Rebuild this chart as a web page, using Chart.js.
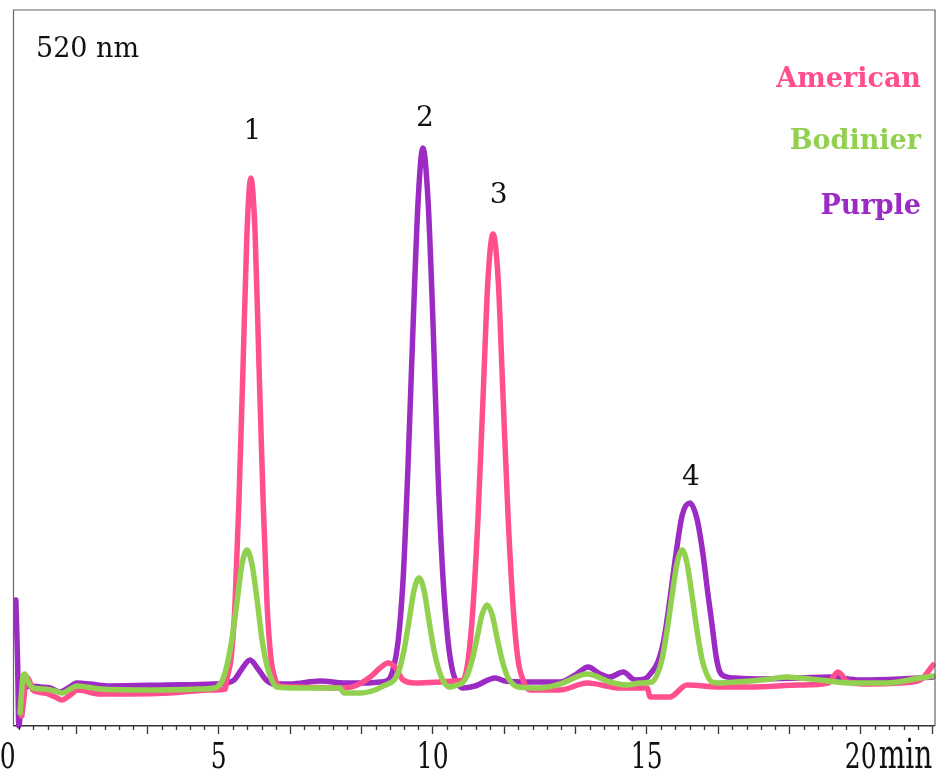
<!DOCTYPE html>
<html>
<head>
<meta charset="utf-8">
<script src="https://cdn.jsdelivr.net/npm/chart.js@4.4.1/dist/chart.umd.min.js"></script>
<style>
  html, body { margin: 0; padding: 0; background: #fff; }
  #wrap { width: 939px; height: 771px; }
</style>
</head>
<body>
<div id="wrap"><canvas id="chart" width="939" height="771"></canvas></div>
<script>
// retention time (min) and detector response (arbitrary units)
const americanT = [0.40, 0.45, 0.50, 0.57, 0.66, 0.94, 1.18, 1.34, 1.53, 1.71, 2.23, 2.93, 3.86, 4.80, 5.15,
  5.19, 5.29, 5.38, 5.47, 5.57, 5.66, 5.75, 5.85, 5.94, 6.04, 6.13, 6.22, 6.32, 6.43,
  6.90, 7.83, 8.18, 8.54, 8.77, 8.96, 9.12, 9.31, 9.59, 10.17, 10.52,
  10.71, 10.83, 10.94, 11.06, 11.18, 11.29, 11.41, 11.53, 11.64, 11.76, 11.88, 11.99, 12.11, 12.27,
  12.97, 13.61, 14.38, 15.01, 15.08, 15.54, 15.94, 16.71, 17.41, 18.58, 19.24, 19.47, 19.70, 20.21, 20.92, 21.39, 21.69];
const americanY = [10, 28, 49, 46, 36, 33, 29, 26, 31, 36, 32, 32, 33, 36, 37,
  47, 68, 121, 222, 362, 493, 548, 493, 362, 222, 121, 68, 47, 40,
  39, 38, 40, 49, 58, 63, 59, 46, 43, 44, 45,
  46, 67, 118, 210, 333, 446, 492, 446, 333, 210, 118, 67, 46, 36,
  36, 43, 38, 38, 29, 29, 41, 39, 39, 41, 43, 54, 44, 42, 43, 46, 61];

const bodinierT = [0.36, 0.38, 0.43, 0.47, 0.54, 0.66, 0.94, 1.18, 1.34, 1.53, 1.69, 2.23, 3.40, 4.56, 4.91,
  4.96, 5.08, 5.19, 5.31, 5.43, 5.54, 5.66, 5.78, 5.90, 6.01, 6.13, 6.25, 6.36,
  6.90, 7.83, 7.93, 8.30, 8.65, 8.84,
  9.10, 9.21, 9.33, 9.45, 9.56, 9.68, 9.80, 9.91, 10.03, 10.15, 10.26, 10.40,
  10.57, 10.69, 10.80, 10.92, 11.04, 11.15, 11.27, 11.39, 11.50, 11.62, 11.74, 11.85, 11.99,
  12.51, 12.97, 13.61, 14.14, 14.54, 14.84,
  15.12, 15.24, 15.36, 15.47, 15.59, 15.71, 15.83, 15.94, 16.06, 16.18, 16.29, 16.41, 16.53, 16.71,
  17.41, 17.88, 18.28, 18.58, 19.05, 19.82, 20.61, 21.39, 21.69];
const bodinierY = [13, 26, 50, 52, 45, 38, 37, 35, 33, 37, 40, 37, 36, 37, 38,
  39, 45, 60, 87, 125, 161, 176, 161, 125, 87, 60, 45, 39,
  38, 38, 33, 33, 36, 40,
  46, 55, 76, 106, 135, 148, 135, 106, 76, 55, 44, 39,
  41, 43, 50, 66, 89, 111, 121, 111, 89, 66, 50, 43, 39,
  38, 42, 52, 44, 41, 43,
  44, 51, 67, 94, 130, 163, 176, 163, 130, 94, 67, 51, 44, 43,
  45, 47, 49, 48, 46, 43, 43, 48, 50];

const purpleT = [0.26, 0.30, 0.33, 0.38, 0.45, 0.59, 0.83, 1.06, 1.29, 1.48, 1.69, 1.99, 2.46, 3.79, 4.87, 5.17,
  5.36, 5.54, 5.73, 5.92, 6.11, 6.29,
  6.67, 7.37, 7.95, 8.47, 8.77,
  8.96, 9.07, 9.19, 9.31, 9.42, 9.54, 9.66, 9.77, 9.89, 10.01, 10.12, 10.24, 10.36, 10.47, 10.59, 10.71,
  10.99, 11.46, 11.69, 12.27, 12.97, 13.33, 13.63, 13.91, 14.14, 14.45, 14.73, 14.96,
  15.08, 15.26, 15.40, 15.54, 15.68, 15.83, 16.01, 16.18, 16.32, 16.43, 16.53, 16.62, 16.71, 16.88, 17.06,
  17.65, 18.58, 19.28, 19.98, 20.92, 21.69];
const purpleY = [126, 66, 0, 20, 36, 40, 39, 38, 34, 38, 43, 42, 40, 41, 42, 43,
  46, 57, 66, 57, 46, 42,
  42, 45, 43, 43, 44,
  46, 56, 84, 148, 257, 399, 526, 578, 526, 399, 257, 148, 84, 54, 42, 38,
  40, 48, 45, 44, 44, 51, 59, 52, 49, 54, 46, 47,
  52, 64, 86, 126, 171, 211, 223, 206, 170, 132, 100, 70, 54, 49, 48,
  47, 48, 49, 46, 47, 49];

const seriesNames = ['American', 'Bodinier', 'Purple'];
const seriesColors = ['#ff4f8e', '#92d050', '#9c2bc3'];

const tickValues = [0, 5, 10, 15, 20];
const tickLabels = ['0', '5', '10', '15', '20'];

const peakLabels = ['1', '2', '3', '4'];
const peakT = [5.79, 9.82, 11.54, 16.03];
const peakY = [587, 600, 523, 241];

const toPoints = (ts, ys) => ts.map((t, i) => ({ x: t, y: ys[i] }));

// frame, minor ticks, stretched axis numbers and the annotations
const decorations = {
  id: 'decorations',
  afterDraw(chart) {
    const ctx = chart.ctx;
    const area = chart.chartArea;
    const xs = chart.scales.x;
    const ys = chart.scales.y;

    ctx.save();
    ctx.strokeStyle = '#666';
    ctx.lineWidth = 1.2;
    ctx.beginPath();
    ctx.moveTo(area.left - 0.5, area.bottom);
    ctx.lineTo(area.left - 0.5, area.top);
    ctx.lineTo(area.right + 1, area.top);
    ctx.lineTo(area.right + 1, area.bottom);
    ctx.stroke();

    // minor ticks every 1/3 min
    ctx.strokeStyle = '#333';
    ctx.lineWidth = 1.3;
    ctx.beginPath();
    for (let k = 1; k <= 65; k++) {
      if (k % 5 === 0) continue;
      const px = Math.round(xs.getPixelForValue(k / 3)) + 0.5;
      ctx.moveTo(px, area.bottom);
      ctx.lineTo(px, area.bottom + 4);
    }
    ctx.stroke();

    // axis numbers (tall serif)
    ctx.fillStyle = '#111';
    ctx.textBaseline = 'alphabetic';
    ctx.font = '25px "DejaVu Serif"';
    tickValues.forEach((v, i) => {
      let px = xs.getPixelForValue(v);
      if (v === 0) px += 3;
      ctx.save();
      ctx.translate(px, area.bottom + 42);
      ctx.scale(1, 1.45);
      ctx.textAlign = 'center';
      ctx.fillText(tickLabels[i], 0, 0);
      ctx.restore();
    });
    ctx.save();
    ctx.font = '28px "DejaVu Serif"';
    ctx.translate(xs.getPixelForValue(20) + 18, area.bottom + 42);
    ctx.scale(1, 1.45);
    ctx.textAlign = 'left';
    ctx.fillText('min', 0, 0);
    ctx.restore();

    // wavelength
    ctx.font = '27px "DejaVu Serif"';
    ctx.textAlign = 'left';
    ctx.fillText('520 nm', area.left + 22, area.top + 47);

    // peak numbers
    ctx.font = '28px "DejaVu Serif"';
    ctx.textAlign = 'center';
    peakLabels.forEach((lab, i) => {
      ctx.fillText(lab, xs.getPixelForValue(peakT[i]), ys.getPixelForValue(peakY[i]));
    });

    // legend
    ctx.font = 'bold 27px "DejaVu Serif"';
    ctx.textAlign = 'right';
    const legendBase = [87, 149, 214];
    seriesNames.forEach((name, i) => {
      ctx.fillStyle = seriesColors[i];
      ctx.fillText(name, area.right - 13, legendBase[i]);
    });
    ctx.restore();
  }
};

const majorTicks = [];
for (let k = 1; k <= 13; k++) majorTicks.push(k * 5 / 3);

const order = [1, 0, 2];
new Chart(document.getElementById('chart'), {
  type: 'line',
  data: {
    datasets: [
      { label: seriesNames[0], data: toPoints(americanT, americanY) },
      { label: seriesNames[1], data: toPoints(bodinierT, bodinierY) },
      { label: seriesNames[2], data: toPoints(purpleT, purpleY) }
    ].map((ds, i) => Object.assign(ds, {
      borderColor: seriesColors[i],
      borderWidth: 5.5,
      pointRadius: 0,
      fill: false,
      cubicInterpolationMode: 'monotone',
      borderJoinStyle: 'round',
      borderCapStyle: 'round',
      clip: 6,
      order: order[i]
    }))
  },
  options: {
    responsive: false,
    animation: false,
    layout: { padding: { left: 14, right: 5, top: 10, bottom: 0 } },
    plugins: { legend: { display: false }, tooltip: { enabled: false } },
    scales: {
      x: {
        type: 'linear',
        min: 0.217,
        max: 21.712,
        afterBuildTicks: (scale) => { scale.ticks = majorTicks.map(v => ({ value: v })); },
        afterFit: (scale) => { scale.height = 45; },
        ticks: { display: false },
        grid: { drawOnChartArea: false, drawTicks: true, tickLength: 8, tickColor: '#333', tickWidth: 1.3 },
        border: { color: '#333', width: 1.5 }
      },
      y: {
        display: false,
        min: 0,
        max: 716
      }
    }
  },
  plugins: [decorations]
});
</script>
</body>
</html>
